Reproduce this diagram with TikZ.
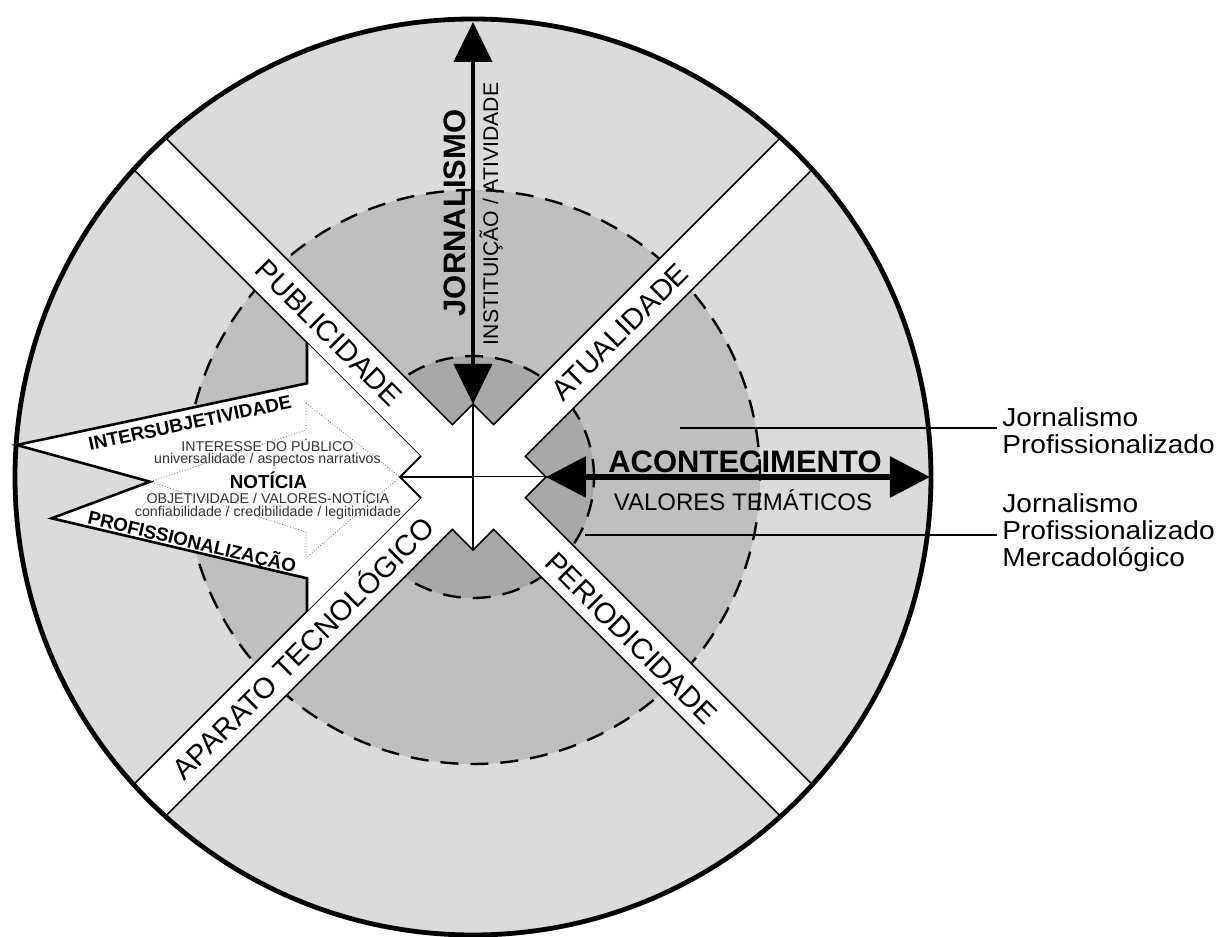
\documentclass[tikz,border=0pt]{standalone}
\usepackage{fontspec}
\setmainfont{Liberation Sans}
\newfontfamily\sidefont{Liberation Sans}[FakeStretch=1.08]
\usetikzlibrary{arrows.meta}

\definecolor{ringouter}{gray}{0.86}
\definecolor{ringmid}{gray}{0.75}
\definecolor{ringinner}{gray}{0.66}

\begin{document}
\begin{tikzpicture}[x=0.5pt, y=0.5pt,
dashring/.style={draw=black, line width=1.2pt, dash pattern=on 9pt off 6pt},
edge/.style={draw=black, line width=0.8pt},
bandlabel/.style={font=\fontsize{14.5}{16}\selectfont, inner sep=0pt},
biglabel/.style={font=\bfseries\fontsize{15.5}{18}\selectfont, inner sep=0pt},
boldsmall/.style={font=\bfseries\fontsize{9.4}{11}\selectfont, inner sep=0pt},
small/.style={font=\fontsize{7.1}{8}\selectfont, text=black!80, inner sep=0pt},
sidelabel/.style={font=\sidefont\fontsize{13}{13.5}\selectfont, align=left, anchor=north west, inner sep=0pt},
dotline/.style={draw=black!60, line width=0.4pt, densely dotted},
leader/.style={line width=0.9pt, shorten >=2.5pt}
]
\useasboundingbox (-473,-460) rectangle (750,477);

%Rings
\fill[ringouter] (0,0) circle (458);
\filldraw[fill=ringmid, dashring] (0,0) circle (287);
\filldraw[fill=ringinner, dashring] (0,0) circle (121);

%White cross
\begin{scope}
\clip (0,0) circle (458);
\fill[white] (-73,0) -- (0,73) -- (73,0) -- (0,-73) -- cycle;
\fill[white, rotate=45] (-500,-22.5) rectangle (500,22.5);
\fill[white, rotate=-45] (-500,-22.5) rectangle (500,22.5);
\foreach \r in {0,90,180,270}
  \draw[edge, rotate=\r] (-420.6,452.4) -- (-20.6,52.4) -- (0,73) -- (20.6,52.4) -- (420.6,452.4);
\end{scope}

%Noticia arrow
\fill[white] (-166,134.2) -- (-166,93.7) -- (-456.3,32) -- (-323,-4.7) -- (-421.3,-41.3)
  -- (-166,-101.3) -- (-166,-134.2) -- (-52.4,-20.6) -- (-73,0) -- (-52.4,20.6) -- cycle;
\draw[line width=1.3pt, line join=miter] (-166,134.2) -- (-166,93.7) -- (-456.3,32) -- (-323,-4.7)
  -- (-421.3,-41.3) -- (-166,-101.3) -- (-166,-134.2);
\draw[line width=1pt] (-52.4,20.6) -- (-73,0) -- (-52.4,-20.6);
\draw[dotline] (-167,74) -- (-73,0) -- (-167,-81) -- (-167,-55) -- (-323,-4.7) -- (-167,47) -- cycle;

%Coordinates
\coordinate (nl) at (-73,0);
\coordinate (nr) at (73,0);
\coordinate (nt) at (0,73);
\coordinate (nb) at (0,-73);
\coordinate (ctr) at (0,0);
\coordinate (jtop) at (0,455);
\coordinate (aright) at (457,0);
\coordinate (pj1) at (207,49);
\coordinate (pj2) at (112,-58);

%Nodes
\node[biglabel, rotate=90]   (jorn)  at (-18,264)   {JORNALISMO};
\node[bandlabel, rotate=90, font=\fontsize{10.6}{12}\selectfont] (inst) at (18,263) {INSTITUIÇÃO / ATIVIDADE};
\node[bandlabel, rotate=-45] (publ)  at (-144,144)  {PUBLICIDADE};
\node[bandlabel, rotate=45]  (atual) at (147,145)   {ATUALIDADE};
\node[bandlabel, rotate=45]  (apar)  at (-171,-170) {APARATO TECNOLÓGICO};
\node[bandlabel, rotate=-45] (peri)  at (158,-161)  {PERIODICIDADE};
\node[biglabel]              (acont) at (272,15)    {ACONTECIMENTO};
\node[bandlabel, font=\fontsize{12}{14}\selectfont] (valor) at (270,-23.5) {VALORES TEMÁTICOS};

\node[boldsmall, rotate=12]    (inter) at (-283,54)     {INTERSUBJETIVIDADE};
\node[small]                   (intpub) at (-205.5,32)  {INTERESSE DO PÚBLICO};
\node[small]                   (univ)  at (-205.5,17.3) {universalidade / aspectos narrativos};
\node[boldsmall]               (noti)  at (-204.5,-3)   {NOTÍCIA};
\node[small]                   (objet) at (-205,-20)    {OBJETIVIDADE / VALORES-NOTÍCIA};
\node[small]                   (conf)  at (-205,-35.5)  {confiabilidade / credibilidade / legitimidade};
\node[boldsmall, rotate=-13.2] (prof)  at (-281,-65)    {PROFISSIONALIZAÇÃO};

\node[sidelabel] (jp)  at (529,70)  {Jornalismo\\Profissionalizado};
\node[sidelabel] (jpm) at (529,-16) {Jornalismo\\Profissionalizado\\Mercadológico};

%Lines
\draw[line width=1pt] (nl) -- (ctr);
\draw[line width=0.5pt] (ctr) -- (nr);
\draw[line width=0.6pt] (nt) -- (nb);
\draw[line width=2.2pt, {Triangle[length=20pt,width=19pt]}-{Triangle[length=20pt,width=19pt]}] (jtop) -- (nt);
\draw[line width=3pt, {Triangle[length=20pt,width=20pt]}-{Triangle[length=20pt,width=20pt]}] (nr) -- (aright);
\draw[leader] (pj1) -- (pj1 -| jp.west);
\draw[leader] (pj2) -- (pj2 -| jpm.west);

%Outer ring
\draw[line width=2.4pt] (0,0) circle (458);
\end{tikzpicture}
\end{document}
